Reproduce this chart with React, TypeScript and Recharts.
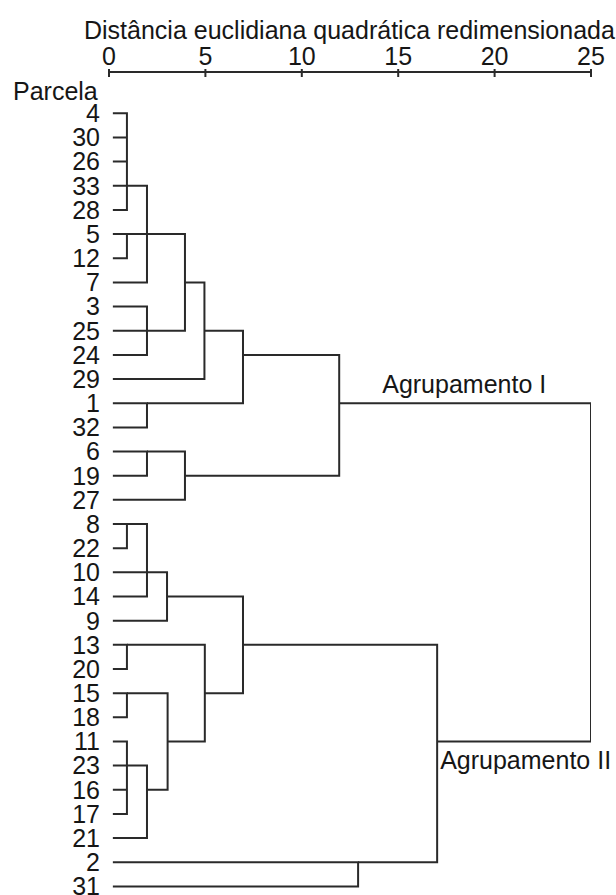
import { ComposedChart, Line, XAxis, YAxis, ReferenceDot } from 'recharts';

// leaf order, top to bottom
const LEAVES = [
  '4', '30', '26', '33', '28', '5', '12', '7', '3', '25', '24', '29', '1', '32', '6', '19', '27',
  '8', '22', '10', '14', '9', '13', '20', '15', '18', '11', '23', '16', '17', '21', '2', '31',
];

const X_TICKS = [0, 5, 10, 15, 20, 25];
const AXIS_TITLE = 'Distância euclidiana quadrática redimensionada';
const ROW_TITLE = 'Parcela';

// where the leaf stubs start on the distance scale
const LEAF_START = 0.2;

// each join: members, rescaled distance, and the leaf row where the joined branch leaves
const MERGES = [
  { id: 'c1', children: ['4', '30', '26', '33', '28'], height: 0.93, exit: '33' },
  { id: 'c2', children: ['5', '12'], height: 0.93, exit: '5' },
  { id: 'c3', children: ['c1', 'c2', '7'], height: 1.97, exit: '5' },
  { id: 'c4', children: ['3', '25', '24'], height: 1.97, exit: '25' },
  { id: 'c5', children: ['c3', 'c4'], height: 3.94, exit: '7' },
  { id: 'c6', children: ['c5', '29'], height: 4.95, exit: '25' },
  { id: 'c7', children: ['1', '32'], height: 1.97, exit: '1' },
  { id: 'c8', children: ['c6', 'c7'], height: 6.95, exit: '24' },
  { id: 'c9', children: ['6', '19'], height: 1.97, exit: '6' },
  { id: 'c10', children: ['c9', '27'], height: 3.94, exit: '19' },
  { id: 'c11', children: ['c8', 'c10'], height: 11.94, exit: '1' },
  { id: 'c12', children: ['8', '22'], height: 0.93, exit: '8' },
  { id: 'c13', children: ['c12', '10', '14'], height: 1.97, exit: '10' },
  { id: 'c14', children: ['c13', '9'], height: 3.01, exit: '14' },
  { id: 'c15', children: ['13', '20'], height: 0.93, exit: '13' },
  { id: 'c16', children: ['15', '18'], height: 0.93, exit: '15' },
  { id: 'c17', children: ['11', '23', '16', '17'], height: 0.93, exit: '23' },
  { id: 'c18', children: ['c17', '21'], height: 1.97, exit: '16' },
  { id: 'c19', children: ['c16', 'c18'], height: 3.04, exit: '11' },
  { id: 'c20', children: ['c15', 'c19'], height: 4.97, exit: '15' },
  { id: 'c21', children: ['c14', 'c20'], height: 6.95, exit: '13' },
  { id: 'c22', children: ['2', '31'], height: 12.92, exit: '2' },
  { id: 'c23', children: ['c21', 'c22'], height: 17.02, exit: '11' },
  { id: 'c24', children: ['c11', 'c23'], height: 25, exit: null },
];

const GROUP_LABELS = [
  { text: 'Agrupamento I', at: 'c11' },
  { text: 'Agrupamento II', at: 'c23' },
];

const FONT = 'Arial, "Liberation Sans", sans-serif';
const INK = '#161616';
const LINE = '#2a2a2a';

// node positions (distance, row) for leaves and joins
const nodes: Record<string, { x: number; row: number }> = {};
LEAVES.forEach((l, i) => {
  nodes[l] = { x: LEAF_START, row: i };
});
MERGES.forEach((m) => {
  const rows = m.children.map((c) => nodes[c].row);
  nodes[m.id] = {
    x: m.height,
    row: m.exit ? LEAVES.indexOf(m.exit) : (Math.min(...rows) + Math.max(...rows)) / 2,
  };
});

function bracket(m: { children: string[]; height: number }) {
  const kids = m.children.map((c) => nodes[c]).sort((a, b) => a.row - b.row);
  const first = kids[0];
  const last = kids[kids.length - 1];
  const pts: { x: number; y: number | null }[] = [
    { x: first.x, y: first.row },
    { x: m.height, y: first.row },
    { x: m.height, y: last.row },
    { x: last.x, y: last.row },
  ];
  kids.slice(1, -1).forEach((k) => {
    pts.push({ x: m.height, y: null }, { x: k.x, y: k.row }, { x: m.height, y: k.row });
  });
  return pts;
}

const TopTick = (props: any) => {
  const { x, y, payload } = props;
  return (
    <g>
      <line x1={x} x2={x} y1={y - 3} y2={y + 5} stroke={LINE} strokeWidth={2} />
      <text x={x} y={y - 7} textAnchor="middle" fontSize={25} fontFamily={FONT} fill={INK}>
        {payload.value}
      </text>
    </g>
  );
};

export default function App() {
  return (
    <div style={{ position: 'absolute', left: 0, top: 0, width: 616, height: 895, background: '#fff' }}>
      <ComposedChart width={616} height={895} margin={{ top: 0, right: 25, bottom: 0, left: 0 }}>
        <XAxis
          xAxisId="d"
          dataKey="x"
          type="number"
          orientation="top"
          domain={[0, 25]}
          allowDataOverflow
          ticks={X_TICKS}
          interval={0}
          height={72}
          tickSize={0}
          tickMargin={0}
          tickLine={false}
          axisLine={{ stroke: LINE, strokeWidth: 2 }}
          tick={TopTick}
          label={{
            content: (p: any) => (
              <text
                x={p.viewBox.x - 25}
                y={p.viewBox.y + 39}
                fontSize={25}
                fontFamily={FONT}
                fill={INK}
              >
                {AXIS_TITLE}
              </text>
            ),
          }}
        />
        <YAxis
          yAxisId="r"
          type="number"
          domain={[-1.709, 32.355]}
          allowDataOverflow
          reversed
          width={109}
          ticks={LEAVES.map((_, i) => i)}
          interval={0}
          tickFormatter={(i: number) => LEAVES[i]}
          axisLine={false}
          tickLine={false}
          tickSize={0}
          tickMargin={9}
          tick={{ fontSize: 25, fontFamily: FONT, fill: INK }}
          label={{
            content: (p: any) => (
              <text x={p.viewBox.x + 13} y={p.viewBox.y + 28} fontSize={25} fontFamily={FONT} fill={INK}>
                {ROW_TITLE}
              </text>
            ),
          }}
        />
        {MERGES.map((m) => (
          <Line
            key={m.id}
            xAxisId="d"
            yAxisId="r"
            data={bracket(m)}
            dataKey="y"
            type="linear"
            stroke={LINE}
            strokeWidth={2}
            dot={false}
            activeDot={false}
            connectNulls={false}
            isAnimationActive={false}
          />
        ))}
        {GROUP_LABELS.map((g, i) => (
          <ReferenceDot
            key={g.text}
            xAxisId="d"
            yAxisId="r"
            x={nodes[g.at].x}
            y={nodes[g.at].row}
            r={0}
            ifOverflow="visible"
            shape={(p: any) => (
              <text
                x={p.cx + (i === 0 ? 43 : 3)}
                y={p.cy + (i === 0 ? -10 : 28)}
                fontSize={25}
                fontFamily={FONT}
                fill={INK}
              >
                {g.text}
              </text>
            )}
          />
        ))}
      </ComposedChart>
    </div>
  );
}
